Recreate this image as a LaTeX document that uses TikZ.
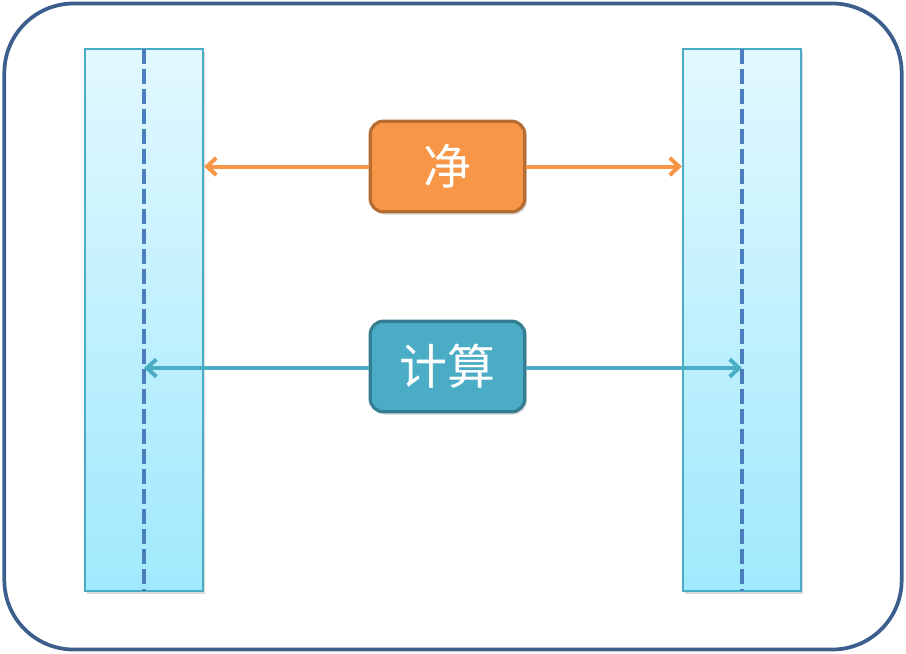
\documentclass[tikz,border=0pt]{standalone}
\usepackage{fontspec}
\newfontfamily\cjk{Noto Sans CJK SC}
\usetikzlibrary{arrows.meta,shadows}
\definecolor{outerc}{HTML}{3B5E8C}
\definecolor{coltop}{HTML}{E2F8FE}
\definecolor{colbot}{HTML}{A0E9FD}
\definecolor{colbd}{HTML}{4BACC6}
\definecolor{dashc}{HTML}{4A7EBF}
\definecolor{orfill}{HTML}{F79646}
\definecolor{orbd}{HTML}{B66D31}
\definecolor{blfill}{HTML}{4BACC6}
\definecolor{blbd}{HTML}{357D91}
\definecolor{orarrow}{HTML}{F79646}
\definecolor{blarrow}{HTML}{4BACC6}
\tikzset{
  column/.style={draw=colbd, line width=1.6pt, top color=coltop, bottom color=colbot,
    minimum width=88.5pt, minimum height=406.5pt, inner sep=0pt,
    drop shadow={shadow xshift=1.5pt, shadow yshift=-2pt, opacity=0.3}},
  dashline/.style={draw=dashc, line width=3pt, dash pattern=on 11pt off 4pt},
  label box/.style={rounded corners=10pt, line width=2.4pt, minimum width=116pt, minimum height=68pt,
    inner sep=0pt, text=white, font=\cjk\fontsize{36}{40}\selectfont,
    drop shadow={shadow xshift=1.5pt, shadow yshift=-2pt, opacity=0.3}},
  orbox/.style={label box, fill=orfill, draw=orbd},
  blbox/.style={label box, fill=blfill, draw=blbd},
  conn/.style={line width=3pt, -{Straight Barb[length=7pt, width=13pt, line width=3pt]}}
}
\begin{document}
\begin{tikzpicture}[x=0.75pt, y=-0.75pt]
\useasboundingbox (0,0) rectangle (906,653);
\node[draw=outerc, line width=2.8pt, rounded corners=52pt, minimum width=673pt, minimum height=484.5pt, inner sep=0pt] (outer) at (453,326.5) {};
\node[column] (lcol) at (144,320) {};
\node[column] (rcol) at (742,320) {};
\coordinate (ltop) at (144,49);
\coordinate (lbot) at (144,591);
\coordinate (rtop) at (742,49);
\coordinate (rbot) at (742,591);
\draw[dashline] (ltop) -- (lbot);
\draw[dashline] (rtop) -- (rbot);
\node[orbox] (jing) at (447.5,166.5) {净};
\node[blbox] (calc) at (447.5,366.5) {计算};
\coordinate (la) at (144,368);
\coordinate (ra) at (742,368);
\draw[conn, orarrow] (jing.west) -- (jing.west -| lcol.east);
\draw[conn, orarrow] (jing.east) -- (jing.east -| rcol.west);
\draw[conn, blarrow] (calc.west |- la) -- (la);
\draw[conn, blarrow] (calc.east |- ra) -- (ra);
\end{tikzpicture}
\end{document}
